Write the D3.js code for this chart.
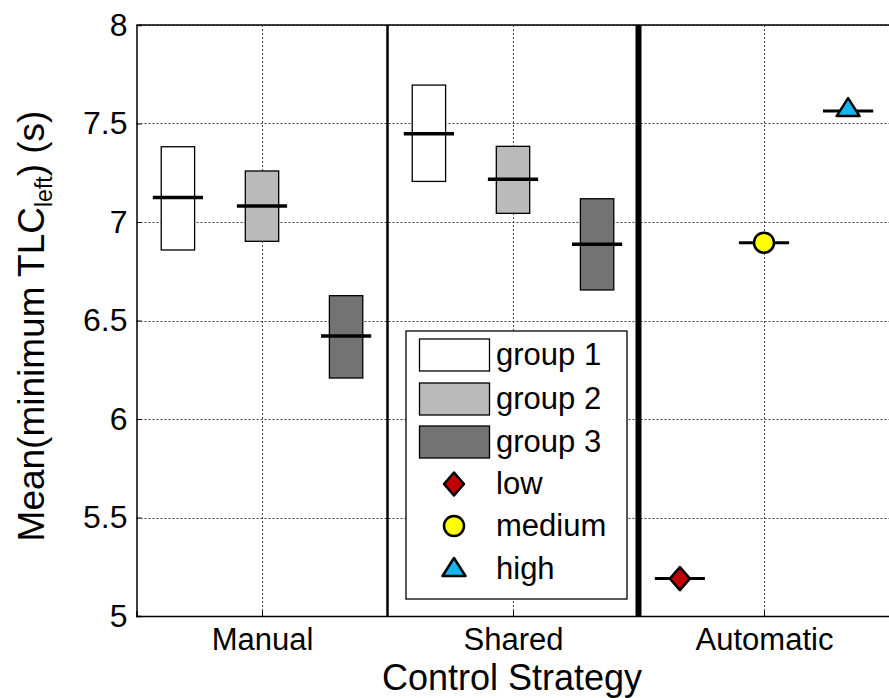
<!DOCTYPE html>
<html><head><meta charset="utf-8">
<script src="https://cdn.jsdelivr.net/npm/d3@7"></script>
<style>body{margin:0;background:#fff}svg{display:block;font-family:"Liberation Sans",Arial,sans-serif}</style>
</head><body>
<script>
// ---- data ----
const strategies = ["Manual", "Shared", "Automatic"];
const groups = ["group 1", "group 2", "group 3"];
const groupColors = ["#ffffff", "#bababa", "#737373"];
// box data per strategy (Manual, Shared) per group
const boxLow  = [[6.858, 6.902, 6.208], [7.206, 7.044, 6.655]];
const boxHigh = [[7.382, 7.259, 6.626], [7.695, 7.384, 7.118]];
const boxMean = [[7.125, 7.081, 6.421], [7.448, 7.217, 6.887]];
// automatic levels
const levels = ["low", "medium", "high"];
const levelValues = [5.19, 6.895, 7.563];
const levelColors = ["#c00000", "#ffff00", "#18b4ee"];
const levelShapes = ["diamond", "circle", "triangle"];
const yTicks = [5, 5.5, 6, 6.5, 7, 7.5, 8];

const W = 889, H = 698;
const L = 136.5, R = 889.5, T = 25, B = 616;
const svg = d3.select("body").append("svg").attr("width", W).attr("height", H);

const x = d3.scaleLinear().domain([0.5, 3.5]).range([L, R]);
const y = d3.scaleLinear().domain([5, 8]).range([B, T]);
const offset = 0.335, boxW = 0.133, meanW = 0.2;

// grid
const grid = svg.append("g").attr("stroke", "#444").attr("stroke-width", 1).attr("stroke-dasharray", "2,2");
grid.selectAll(".gy").data(yTicks).join("line")
  .attr("x1", L).attr("x2", R).attr("y1", d => Math.round(y(d)) + 0.5).attr("y2", d => Math.round(y(d)) + 0.5);
grid.selectAll(".gx").data(strategies).join("line")
  .attr("y1", T).attr("y2", B).attr("x1", (d, i) => Math.round(x(i + 1)) + 0.5).attr("x2", (d, i) => Math.round(x(i + 1)) + 0.5);

// axes
const yAxis = d3.axisLeft(y).tickValues(yTicks).tickSize(-5).tickPadding(9).tickFormat(d3.format("~g"));
const gy = svg.append("g").attr("transform", `translate(${L},0)`).call(yAxis);
gy.selectAll("text").attr("font-size", 32).attr("fill", "#000");
gy.select(".domain").attr("stroke", "#000").attr("stroke-width", 1.5);
gy.selectAll(".tick line").attr("stroke", "#000");

const xAxis = d3.axisBottom(x).tickValues([1, 2, 3]).tickSize(-5).tickPadding(12).tickFormat((d) => strategies[d - 1]);
const gx = svg.append("g").attr("transform", `translate(0,${B})`).call(xAxis);
gx.selectAll("text").attr("font-size", 31).attr("fill", "#000");
gx.select(".domain").attr("stroke", "#000").attr("stroke-width", 1.5);
gx.selectAll(".tick line").attr("stroke", "#000");
// top border
svg.append("line").attr("x1", L).attr("x2", R).attr("y1", T).attr("y2", T).attr("stroke", "#000").attr("stroke-width", 1.5);

// separators
svg.append("line").attr("x1", x(1.5)).attr("x2", x(1.5)).attr("y1", T).attr("y2", B).attr("stroke", "#000").attr("stroke-width", 2.5);
svg.append("line").attr("x1", x(2.5)).attr("x2", x(2.5)).attr("y1", T).attr("y2", B).attr("stroke", "#000").attr("stroke-width", 6);

// boxes
const boxData = [];
boxLow.forEach((row, si) => row.forEach((v, gi) => boxData.push({
  cx: si + 1 + (gi - 1) * offset, lo: v, hi: boxHigh[si][gi], mean: boxMean[si][gi], color: groupColors[gi]
})));
svg.append("g").selectAll("rect").data(boxData).join("rect")
  .attr("x", d => x(d.cx - boxW / 2)).attr("width", x(boxW) - x(0))
  .attr("y", d => y(d.hi)).attr("height", d => y(d.lo) - y(d.hi))
  .attr("fill", d => d.color).attr("stroke", "#000").attr("stroke-width", 1.3);
svg.append("g").selectAll("line").data(boxData).join("line")
  .attr("x1", d => x(d.cx - meanW / 2)).attr("x2", d => x(d.cx + meanW / 2))
  .attr("y1", d => y(d.mean)).attr("y2", d => y(d.mean))
  .attr("stroke", "#000").attr("stroke-width", 3.5);

// automatic markers
function marker(g, shape, color) {
  if (shape === "diamond") {
    g.append("path").attr("d", "M0,-11.5L10,0L0,11.5L-10,0Z").attr("fill", color).attr("stroke", "#000").attr("stroke-width", 2.5).attr("stroke-linejoin", "round");
  } else if (shape === "circle") {
    g.append("circle").attr("r", 10).attr("fill", color).attr("stroke", "#000").attr("stroke-width", 2.5);
  } else {
    g.append("path").attr("d", "M0,-11L11.5,7L-11.5,7Z").attr("fill", color).attr("stroke", "#000").attr("stroke-width", 2.5).attr("stroke-linejoin", "round");
  }
}
levelValues.forEach((v, i) => {
  const cx = 3 + (i - 1) * offset;
  svg.append("line").attr("x1", x(cx - meanW / 2)).attr("x2", x(cx + meanW / 2))
    .attr("y1", y(v)).attr("y2", y(v)).attr("stroke", "#000").attr("stroke-width", 3);
  const g = svg.append("g").attr("transform", `translate(${x(cx)},${y(v) + (levelShapes[i] === "triangle" ? -2 : 0)})`);
  marker(g, levelShapes[i], levelColors[i]);
});

// legend
const lg = svg.append("g");
lg.append("rect").attr("x", 406).attr("y", 331).attr("width", 221).attr("height", 268)
  .attr("fill", "#fff").attr("stroke", "#000").attr("stroke-width", 1.3);
const rowY = [355, 399, 442, 484, 526, 569];
groups.forEach((gname, i) => {
  lg.append("rect").attr("x", 419.5).attr("y", rowY[i] - 16).attr("width", 70).attr("height", 32)
    .attr("fill", groupColors[i]).attr("stroke", "#000").attr("stroke-width", 1.3);
  lg.append("text").attr("x", 496).attr("y", rowY[i] + 10).attr("font-size", 31).text(gname);
});
levels.forEach((lv, i) => {
  const ry = rowY[i + 3];
  const g = lg.append("g").attr("transform", `translate(454,${ry})`);
  marker(g, levelShapes[i], levelColors[i]);
  lg.append("text").attr("x", 496).attr("y", ry + 10).attr("font-size", 31).text(lv);
});

// axis titles
svg.append("text").attr("x", 512).attr("y", 690).attr("text-anchor", "middle").attr("font-size", 36).text("Control Strategy");
const yl = svg.append("text").attr("transform", "translate(44,326) rotate(-90)").attr("text-anchor", "middle").attr("font-size", 37);
yl.append("tspan").text("Mean(minimum TLC");
yl.append("tspan").attr("font-size", 23).attr("dy", 8).text("left");
yl.append("tspan").attr("dy", -8).text(") (s)");
</script>
</body></html>
